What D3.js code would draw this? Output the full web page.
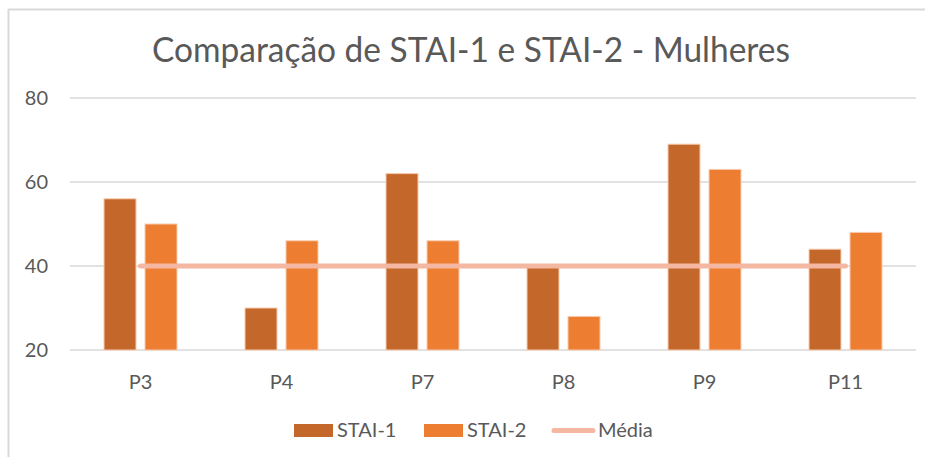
<!DOCTYPE html>
<html><head><meta charset="utf-8">
<script src="https://cdn.jsdelivr.net/npm/d3@7"></script>
<style>html,body{margin:0;padding:0;background:#fff;}svg{display:block;}</style>
</head><body>
<script>
const categories = ["P3","P4","P7","P8","P9","P11"];
const stai1 = [56,30,62,40,69,44];
const stai2 = [50,46,46,28,63,48];
const media = [40,40,40,40,40,40];
const yTicks = [20,40,60,80];
const seriesNames = ["STAI-1","STAI-2","Média"];
const title = "Comparação de STAI-1 e STAI-2 - Mulheres";

const W = 925, H = 457;
const font = "Lato, 'Open Sans', sans-serif";
const textColor = "#595959";
const grid = "#D9D9D9";
const c1 = "#C4672A", c2 = "#ED7D31", cm = "#F4B8A2";

const svg = d3.select("body").append("svg").attr("width", W).attr("height", H);
svg.append("rect").attr("width", W).attr("height", H).attr("fill", "#fff");
// chart frame
svg.append("line").attr("x1", 8.5).attr("x2", 8.5).attr("y1", 9).attr("y2", H).attr("stroke", grid).attr("stroke-width", 2);
svg.append("line").attr("x1", 8).attr("x2", W).attr("y1", 9.5).attr("y2", 9.5).attr("stroke", grid).attr("stroke-width", 2);

const x = d3.scaleBand().domain(categories).range([70, 916]);
const y = d3.scaleLinear().domain([20, 80]).range([350, 98]);

// gridlines
svg.append("g").selectAll("line").data(yTicks).join("line")
  .attr("x1", 70).attr("x2", 916)
  .attr("y1", d => y(d)).attr("y2", d => y(d))
  .attr("stroke", grid).attr("stroke-width", 1.5);

// y labels
svg.append("g").selectAll("text").data(yTicks).join("text")
  .attr("x", 48).attr("y", d => y(d) + 7)
  .attr("text-anchor", "end").attr("font-family", font).attr("font-size", 20)
  .attr("fill", textColor).text(d => d);

// x labels
svg.append("g").selectAll("text").data(categories).join("text")
  .attr("x", d => x(d) + x.bandwidth() / 2).attr("y", 389)
  .attr("text-anchor", "middle").attr("font-family", font).attr("font-size", 20)
  .attr("fill", textColor).text(d => d);

// bars
const inner = d3.scaleBand().domain([0, 1]).range([34, 107]).paddingInner(0.22).paddingOuter(0);
const series = [stai1, stai2];
const colors = [c1, c2];
series.forEach((vals, si) => {
  svg.append("g").selectAll("rect").data(vals).join("rect")
    .attr("x", (d, i) => x(categories[i]) + inner(si))
    .attr("width", inner.bandwidth())
    .attr("y", d => y(d))
    .attr("height", d => y(20) - y(d))
    .attr("fill", colors[si])
    .attr("stroke", "#F8CBAD").attr("stroke-width", 1);
});

// media line
const line = d3.line().x((d, i) => x(categories[i]) + x.bandwidth() / 2).y(d => y(d));
svg.append("path").datum(media).attr("d", line)
  .attr("fill", "none").attr("stroke", cm).attr("stroke-width", 5).attr("stroke-linecap", "round");

// title
svg.append("text").attr("x", 471).attr("y", 62).attr("text-anchor", "middle")
  .attr("font-family", font).attr("font-size", 35).attr("fill", textColor)
  .attr("textLength", 638).attr("lengthAdjust", "spacingAndGlyphs")
  .text(title);

// legend
const lg = svg.append("g");
const lx = [294, 424, 552];
lg.append("rect").attr("x", lx[0]).attr("y", 424).attr("width", 39).attr("height", 13).attr("fill", c1);
lg.append("rect").attr("x", lx[1]).attr("y", 424).attr("width", 39).attr("height", 13).attr("fill", c2);
lg.append("line").attr("x1", lx[2] + 2).attr("x2", lx[2] + 41).attr("y1", 430.5).attr("y2", 430.5)
  .attr("stroke", cm).attr("stroke-width", 5).attr("stroke-linecap", "round");
const tx = [337, 467, 598];
lg.selectAll("text").data(seriesNames).join("text")
  .attr("x", (d, i) => tx[i]).attr("y", 437)
  .attr("font-family", font).attr("font-size", 20).attr("fill", textColor).text(d => d);
</script>
</body></html>
